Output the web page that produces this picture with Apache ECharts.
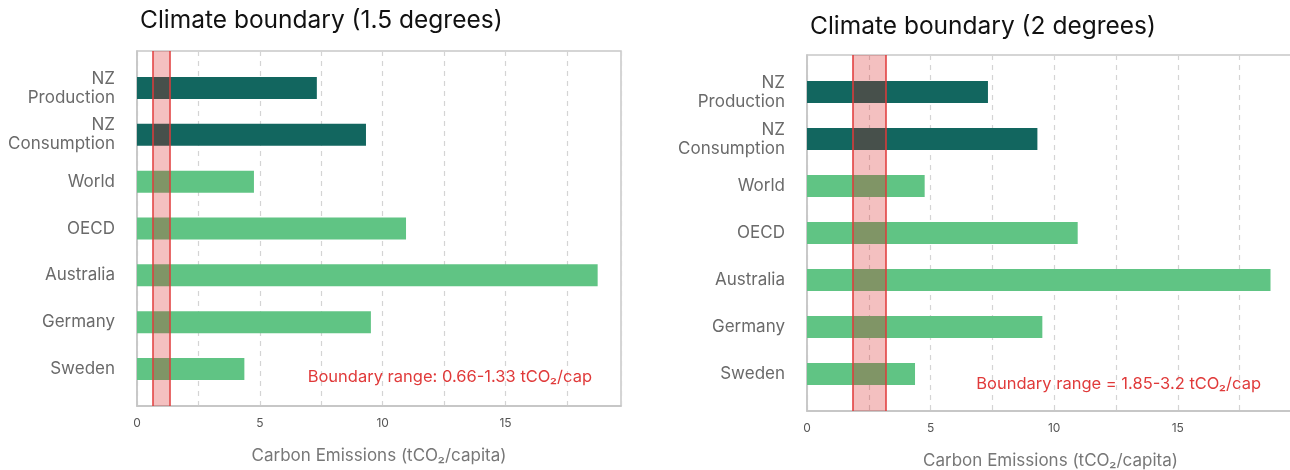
<!DOCTYPE html>
<html>
<head>
<meta charset="utf-8">
<title>Climate boundary</title>
<script src="https://cdn.jsdelivr.net/npm/echarts@6/dist/echarts.min.js"></script>
<style>
  html, body { margin: 0; padding: 0; background: #fff; }
  #chart { width: 1290px; height: 470px; }
</style>
</head>
<body>
<div id="chart"></div>
<script>
// data
const categories = ['NZ\nProduction', 'NZ\nConsumption', 'World', 'OECD', 'Australia', 'Germany', 'Sweden']
const emissions = [7.32, 9.32, 4.76, 10.95, 18.75, 9.52, 4.37]
const nzFlags = [true, true, false, false, false, false, false]
const bounds15 = [0.66, 1.33]
const bounds20 = [1.85, 3.2]
const xTicks = [0, 5, 10, 15]

const FONT = 'Inter, "Noto Sans", sans-serif'
const NZ_COLOR = '#12665f'
const OTHER_COLOR = '#60c484'
const RED = '#e03a3a'
const X_MAX = 19.7

const chart = echarts.init(document.getElementById('chart'))

// one panel = frame grid (axis, gridlines, band) + inset grid (bars, category labels)
function panel(idx, box, bounds) {
  const frame = idx * 2
  const inner = frame + 1
  const pad = 13.5
  const grids = [
    { left: box.left, top: box.top, width: box.width, height: box.height, outerBoundsMode: 'none',
      show: true, borderColor: '#c8c8c8', borderWidth: 1.5, backgroundColor: 'transparent' },
    { left: box.left, top: box.top + pad, width: box.width, height: box.height - pad * 2, outerBoundsMode: 'none' },
  ]
  const xAxes = [
    {
      gridIndex: frame, type: 'value', min: 0, max: X_MAX, interval: 2.5,
      name: 'Carbon Emissions (tCO₂/capita)', nameLocation: 'middle', nameGap: box.nameGap,
      nameTextStyle: { color: '#777', fontSize: 17, fontFamily: FONT },
      axisLine: { show: true, lineStyle: { color: '#c4c4c4', width: 1.5 } },
      axisTick: { show: false },
      axisLabel: {
        color: '#555', fontSize: 12, fontFamily: FONT, margin: 11,
        formatter: v => (xTicks.includes(v) ? String(v) : ''),
      },
      splitLine: { show: true, lineStyle: { color: '#d4d4d4', width: 1.2, type: [5, 5] } },
    },
    { gridIndex: inner, type: 'value', min: 0, max: X_MAX, show: false, splitLine: { show: false } },
  ]
  const yAxes = [
    {
      gridIndex: frame, type: 'category', data: categories, inverse: true,
      axisLine: { show: true, lineStyle: { color: '#c4c4c4', width: 1.5 } },
      axisTick: { show: false }, axisLabel: { show: false }, splitLine: { show: false },
    },
    {
      gridIndex: inner, type: 'category', data: categories, inverse: true,
      axisLine: { show: false }, axisTick: { show: false },
      axisLabel: { color: '#6a6a6a', fontSize: 17, lineHeight: 19, fontFamily: FONT, margin: 22 },
    },
  ]
  const series = [
    {
      type: 'bar', xAxisIndex: inner, yAxisIndex: inner, barWidth: 22, z: 2,
      data: emissions.map((v, i) => ({ value: v, itemStyle: { color: nzFlags[i] ? NZ_COLOR : OTHER_COLOR } })),
    },
    {
      type: 'line', xAxisIndex: frame, yAxisIndex: frame, data: [], z: 5, silent: true,
      markArea: {
        silent: true, z: 6,
        itemStyle: { color: 'rgba(216, 24, 24, 0.27)' },
        data: [[{ xAxis: bounds[0] }, { xAxis: bounds[1] }]],
      },
      markLine: {
        silent: true, z: 7, symbol: 'none', label: { show: false },
        lineStyle: { color: RED, width: 1.5, type: 'solid' },
        data: [{ xAxis: bounds[0] }, { xAxis: bounds[1] }],
      },
    },
  ]
  return { grids, xAxes, yAxes, series }
}

const left = panel(0, { left: 137, top: 51, width: 484, height: 355, nameGap: 41 }, bounds15)
const right = panel(1, { left: 807, top: 55, width: 487, height: 356, nameGap: 41 }, bounds20)

chart.setOption({
  animation: false,
  title: [
    { text: 'Climate boundary (1.5 degrees)', left: 135, top: 3,
      textStyle: { fontFamily: FONT, fontSize: 24.5, fontWeight: 'normal', color: '#111' } },
    { text: 'Climate boundary (2 degrees)', left: 805, top: 9,
      textStyle: { fontFamily: FONT, fontSize: 24.5, fontWeight: 'normal', color: '#111' } },
  ],
  grid: [...left.grids, ...right.grids],
  xAxis: [...left.xAxes, ...right.xAxes],
  yAxis: [...left.yAxes, ...right.yAxes],
  series: [...left.series, ...right.series],
  graphic: [
    { type: 'text', x: 592, y: 377, z: 10,
      style: { text: 'Boundary range: 0.66-1.33 tCO₂/cap', fill: RED, font: '16.5px ' + FONT, align: 'right', verticalAlign: 'middle' } },
    { type: 'text', x: 1261, y: 384, z: 10,
      style: { text: 'Boundary range = 1.85-3.2 tCO₂/cap', fill: RED, font: '16.5px ' + FONT, align: 'right', verticalAlign: 'middle' } },
  ],
})

window.addEventListener('resize', () => chart.resize())
</script>
</body>
</html>
